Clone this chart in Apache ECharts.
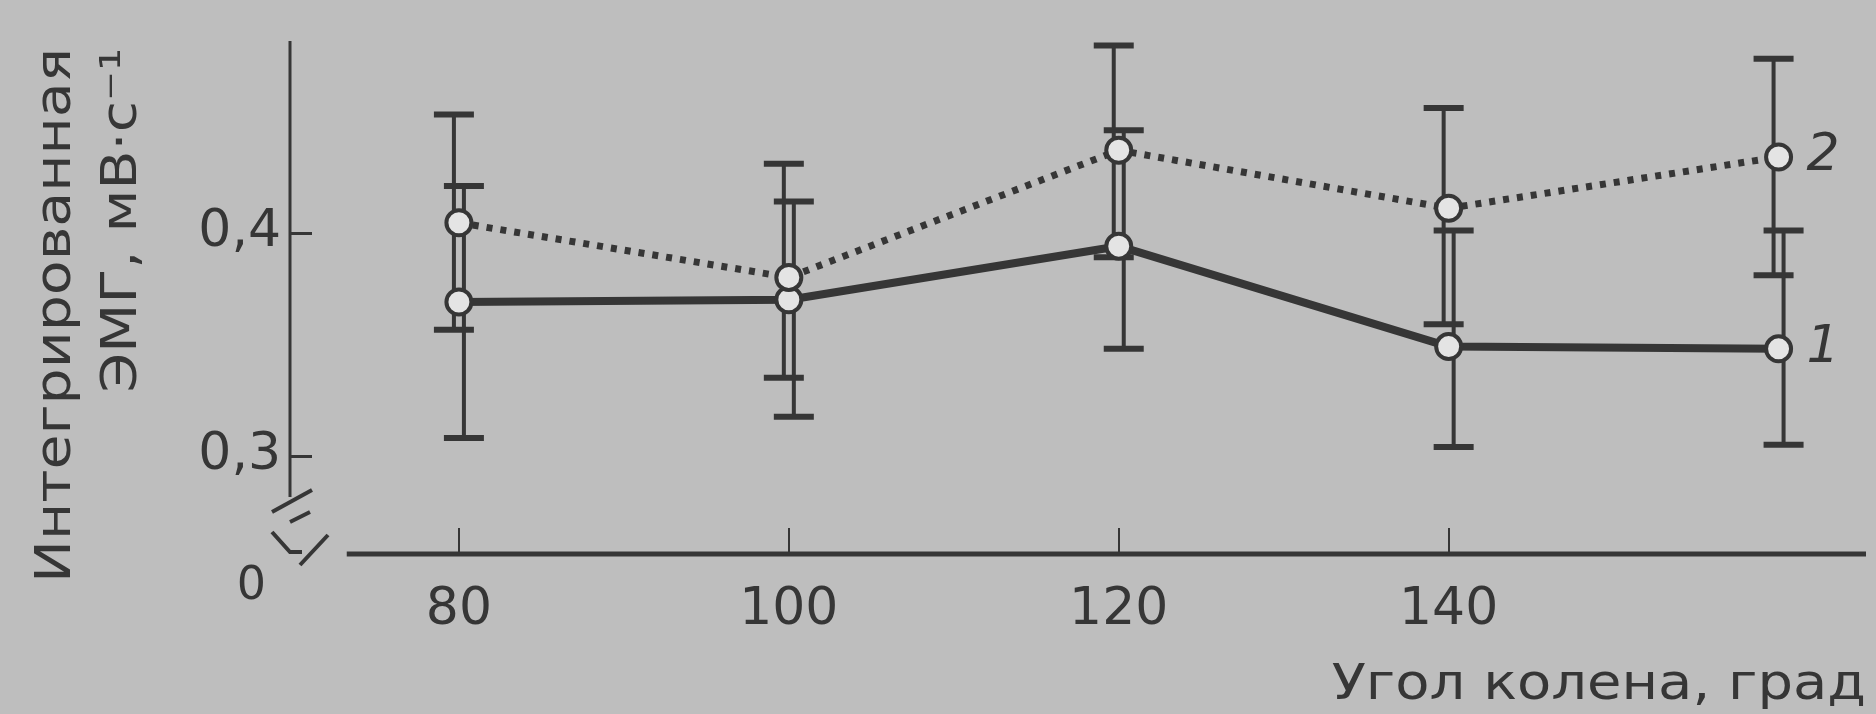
<!DOCTYPE html>
<html>
<head>
<meta charset="utf-8">
<script src="https://cdn.jsdelivr.net/npm/echarts@6/dist/echarts.min.js"></script>
<style>
html,body{margin:0;padding:0;background:#bdbdbd;}
#chart{width:1876px;height:714px;}
</style>
</head>
<body>
<div id="chart"></div>
<script>
// ---- data ----
const angles = [80, 100, 120, 140, 160];
const emg1 = [0.369, 0.370, 0.394, 0.349, 0.348];
const emg1Low = [0.308, 0.3175, 0.348, 0.304, 0.305];
const emg1High = [0.421, 0.414, 0.446, 0.401, 0.401];
const emg2 = [0.4045, 0.380, 0.437, 0.411, 0.434];
const emg2Low = [0.3565, 0.335, 0.389, 0.359, 0.381];
const emg2High = [0.453, 0.431, 0.484, 0.456, 0.478];
const xTickValues = [80, 100, 120, 140];
const yTickValues = [0.3, 0.4];
const yZeroValue = 0.256;   // broken axis: bottom of the plot is labelled "0"
const yBreakValue = 0.2816; // where the drawn y axis line stops
const xLineStart = 73.2;    // where the drawn x axis line starts
const xMin = 69.76, xMax = 165.3, yMax = 0.486;
const seriesNames = ['1', '2'];
const yTitleLines = ['Интегрированная', 'ЭМГ, мВ·с⁻¹'];
const xTitle = 'Угол колена, град';

const ink = '#363636';
const font = 'DejaVu Sans';

function errData(lo, hi) {
  return angles.map((a, i) => [a, lo[i], hi[i]]);
}
function makeErr(shift) {
  return function (params, api) {
    const x = api.value(0);
    const top = api.coord([x, api.value(2)]);
    const bot = api.coord([x, api.value(1)]);
    const cx = top[0] + shift;
    const hw = 20;
    const st = { stroke: ink, lineWidth: 4 };
    const cs = { stroke: ink, lineWidth: 6 };
    return {
      type: 'group',
      children: [
        { type: 'line', shape: { x1: cx, y1: top[1], x2: cx, y2: bot[1] }, style: st },
        { type: 'line', shape: { x1: cx - hw, y1: top[1], x2: cx + hw, y2: top[1] }, style: cs },
        { type: 'line', shape: { x1: cx - hw, y1: bot[1], x2: cx + hw, y2: bot[1] }, style: cs }
      ]
    };
  };
}

const chart = echarts.init(document.getElementById('chart'), null, { renderer: 'canvas' });
const option = {
  backgroundColor: '#bebebe',
  animation: false,
  grid: { left: 290, right: 10, top: 41, bottom: 160 },
  xAxis: {
    type: 'value',
    min: xMin,
    max: xMax,
    splitLine: { show: false },
    axisLine: { show: false },
    axisTick: { show: true, inside: true, length: 26, customValues: xTickValues, lineStyle: { color: ink, width: 2 } },
    axisLabel: { customValues: xTickValues, margin: 30, fontSize: 52, fontFamily: font, color: ink }
  },
  yAxis: {
    type: 'value',
    min: yZeroValue,
    max: yMax,
    splitLine: { show: false },
    axisLine: { show: false },
    axisTick: { show: true, inside: true, length: 22, customValues: yTickValues, lineStyle: { color: ink, width: 3 } },
    axisLabel: {
      customValues: [yZeroValue].concat(yTickValues),
      margin: 9,
      fontSize: 52,
      fontFamily: font,
      color: ink,
      formatter: function (v) {
        if (v < 0.29) return '{z|0}';
        return v.toFixed(1).replace('.', ',');
      },
      rich: { z: { fontSize: 46, fontFamily: font, color: ink, padding: [66, 15, 0, 0] } }
    }
  },
  series: [
    {
      type: 'custom', name: 'err2', renderItem: makeErr(-5), data: errData(emg2Low, emg2High), z: 2,
      encode: { x: 0, y: [1, 2] }
    },
    {
      type: 'custom', name: 'err1', renderItem: makeErr(5), data: errData(emg1Low, emg1High), z: 2,
      encode: { x: 0, y: [1, 2] }
    },
    {
      type: 'line', name: seriesNames[0], z: 3,
      data: angles.map((a, i) => [a, emg1[i]]),
      symbol: 'circle', symbolSize: 25,
      itemStyle: { color: '#e4e4e4', borderColor: ink, borderWidth: 4 },
      lineStyle: { color: ink, width: 8 },
      endLabel: { show: true, formatter: seriesNames[0], fontSize: 52, fontStyle: 'italic', fontFamily: font, color: ink, distance: 28 }
    },
    {
      type: 'line', name: seriesNames[1], z: 3,
      data: angles.map((a, i) => [a, emg2[i]]),
      symbol: 'circle', symbolSize: 25,
      itemStyle: { color: '#e4e4e4', borderColor: ink, borderWidth: 4 },
      lineStyle: { color: ink, width: 7, type: [6, 8] },
      endLabel: { show: true, formatter: seriesNames[1], fontSize: 52, fontStyle: 'italic', fontFamily: font, color: ink, distance: 28 }
    }
  ]
};
chart.setOption(option);

// axis lines (broken) and titles, positioned through the chart's own scales
const P = v => chart.convertToPixel({ gridIndex: 0 }, v);
const o = P([xMin, yZeroValue]);
const yTop = P([xMin, yMax]);
const yBrk = P([xMin, yBreakValue]);
const xS = P([xLineStart, yZeroValue]);
const xE = P([xMax, yZeroValue]);
const lineStyle = w => ({ stroke: ink, lineWidth: w, lineCap: 'butt', fill: null });
chart.setOption({
  graphic: [
    { type: 'line', shape: { x1: yTop[0], y1: yTop[1], x2: yBrk[0], y2: yBrk[1] }, style: lineStyle(3), z: 1 },
    { type: 'line', shape: { x1: xS[0], y1: xS[1], x2: xE[0], y2: xE[1] }, style: lineStyle(5), z: 1 },
    { type: 'line', shape: { x1: o[0] - 18, y1: o[1] - 42, x2: o[0] + 22, y2: o[1] - 64 }, style: lineStyle(4) },
    { type: 'line', shape: { x1: o[0], y1: o[1] - 32, x2: o[0] + 20, y2: o[1] - 42 }, style: lineStyle(4) },
    { type: 'polyline', shape: { points: [[o[0] - 18, o[1] - 22], [o[0], o[1] - 2], [o[0] + 12, o[1] - 2]] }, style: lineStyle(4) },
    { type: 'line', shape: { x1: o[0] + 10, y1: o[1] + 11, x2: o[0] + 38, y2: o[1] - 19 }, style: lineStyle(4) },
    {
      type: 'text',
      x: 24, y: 48,
      rotation: Math.PI / 2,
      scaleX: 1.14,
      style: {
        text: yTitleLines.join('\n'),
        font: '50px "DejaVu Sans"',
        fill: ink,
        align: 'right',
        verticalAlign: 'top',
        lineHeight: 66
      }
    },
    {
      type: 'text',
      x: 1866, y: 686,
      scaleX: 1.12,
      style: {
        text: xTitle,
        font: '50px "DejaVu Sans"',
        fill: ink,
        align: 'right',
        verticalAlign: 'middle'
      }
    }
  ]
});
</script>
</body>
</html>
